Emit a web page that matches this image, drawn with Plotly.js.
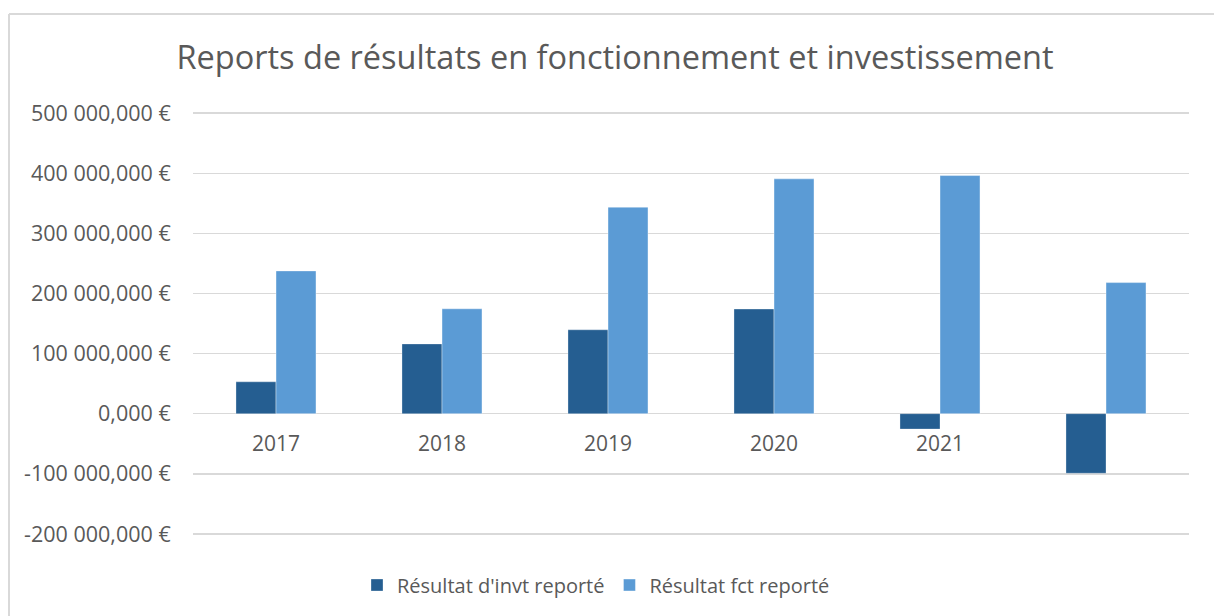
<!DOCTYPE html>
<html>
<head>
<meta charset="utf-8">
<script src="https://cdn.plot.ly/plotly-3.0.1.min.js"></script>
<style>html,body{margin:0;padding:0;background:#fff;}#chart{width:1214px;height:616px;}</style>
</head>
<body>
<div id="chart"></div>
<script>
const categories = ['2017', '2018', '2019', '2020', '2021', ' '];
const invtReporte = [53000, 116000, 139500, 174000, -25500, -99000];
const fctReporte = [237500, 174500, 343500, 390500, 396000, 218000];
const seriesNames = ["Résultat d'invt reporté", 'Résultat fct reporté'];
const yTickVals = [-200000, -100000, 0, 100000, 200000, 300000, 400000, 500000];

function fmtEuro(v) {
  const neg = v < 0;
  const a = Math.abs(v);
  const intPart = Math.floor(a).toString().replace(/\B(?=(\d{3})+(?!\d))/g, ' ');
  return (neg ? '-' : '') + intPart + ',000 €';
}
const yTickText = yTickVals.map(fmtEuro);

const FONT = 'Open Sans, sans-serif';
const TXT = '#595959';
const GRID = '#D9D9D9';

const Y0 = -205000, Y1 = 505000;
const L = 193, R = 1189, T = 110, B = 537;
const px = x => (x - L) / (R - L);
const py = y => (B - y) / (B - T);

const data = [
  {type: 'bar', name: seriesNames[0], x: categories, y: invtReporte,
   marker: {color: '#255E91', line: {color: 'rgba(255,255,255,0.3)', width: 1}}},
  {type: 'bar', name: seriesNames[1], x: categories, y: fctReporte,
   marker: {color: '#5B9BD5', line: {color: 'rgba(255,255,255,0.4)', width: 1}}}
];

const layout = {
  width: 1214, height: 616,
  margin: {l: L, r: 1214 - R, t: T, b: 616 - B, pad: 0},
  paper_bgcolor: '#fff', plot_bgcolor: '#fff',
  font: {family: FONT, color: TXT},
  title: {text: 'Reports de résultats en fonctionnement et investissement',
          font: {family: FONT, size: 32.5, color: TXT},
          x: px(615), xref: 'paper', xanchor: 'center',
          y: 1 - 58 / 616, yref: 'container', yanchor: 'middle'},
  barmode: 'group', bargap: 0.518, bargroupgap: 0,
  showlegend: true,
  legend: {orientation: 'h', x: px(596), xanchor: 'center', y: py(585), yanchor: 'middle',
           font: {family: FONT, size: 20, color: TXT}, traceorder: 'normal', itemwidth: 30},
  xaxis: {type: 'category', anchor: 'free', position: (0 - Y0) / (Y1 - Y0), showgrid: false,
          showline: false, zeroline: false, ticks: 'outside', ticklen: 11,
          tickcolor: 'rgba(0,0,0,0)', tickfont: {family: FONT, size: 21, color: TXT},
          fixedrange: true},
  yaxis: {range: [Y0, Y1], tickvals: yTickVals, ticktext: yTickText,
          showgrid: true, gridcolor: GRID, gridwidth: 1.3, zeroline: true,
          zerolinecolor: GRID, zerolinewidth: 1.3, showline: false,
          ticks: 'outside', ticklen: 17, tickcolor: 'rgba(0,0,0,0)',
          tickfont: {family: FONT, size: 21.5, color: TXT}, fixedrange: true},
  shapes: [
    {type: 'line', xref: 'paper', yref: 'paper', x0: px(9), x1: px(1214), y0: py(14), y1: py(14),
     line: {color: GRID, width: 2}},
    {type: 'line', xref: 'paper', yref: 'paper', x0: px(9), x1: px(9), y0: py(14), y1: py(616),
     line: {color: GRID, width: 2}}
  ]
};

Plotly.newPlot('chart', data, layout, {displayModeBar: false, staticPlot: true});
</script>
</body>
</html>
